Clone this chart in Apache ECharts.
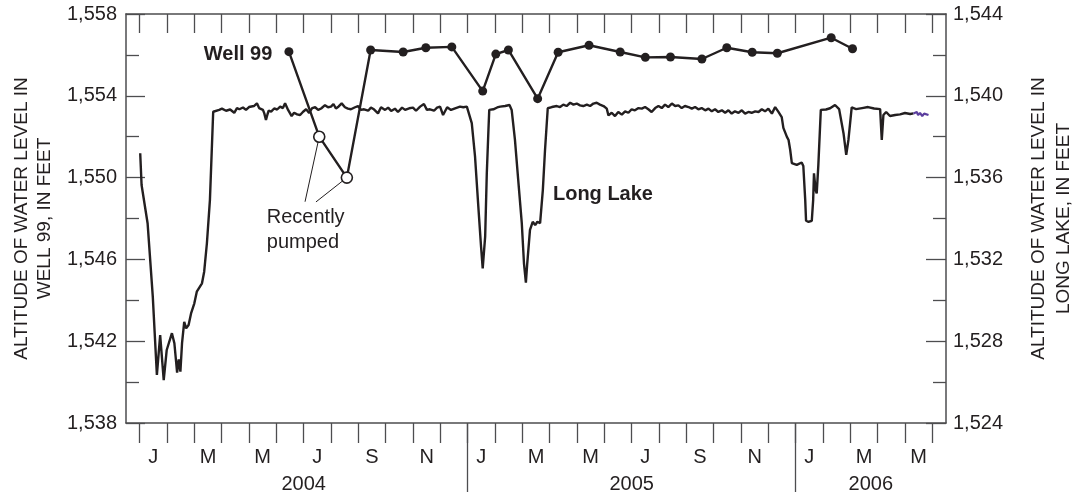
<!DOCTYPE html>
<html><head><meta charset="utf-8">
<script src="https://cdn.jsdelivr.net/npm/echarts@6/dist/echarts.min.js"></script>
<style>html,body{margin:0;padding:0;background:#fff}#chart{width:1074px;height:494px}</style>
</head><body><div id="chart"></div>
<script>
// x positions are in months counted from 1 Jan 2004 (0 = Jan 2004 start, 12 = Jan 2005, ...)
const monthLabels = ['J','M','M','J','S','N','J','M','M','J','S','N','J','M','M'];
const yearLabels = ['2004','2005','2006'];
const leftTicks = [1538,1542,1546,1550,1554,1558];
const rightTicks = [1524,1528,1532,1536,1540,1544];

// Well 99 measured water level (left axis)
const well99 = [
 [5.46,1556.16],[6.57,1552.00],[7.58,1550.00],[8.45,1556.24],[9.64,1556.14],[10.47,1556.35],
 [11.42,1556.39],[12.55,1554.23],[13.03,1556.04],[13.49,1556.24],[14.56,1553.86],[15.31,1556.13],
 [16.44,1556.47],[17.58,1556.14],[18.50,1555.88],[19.42,1555.90],[20.57,1555.80],[21.48,1556.35],
 [22.41,1556.13],[23.33,1556.08],[25.30,1556.84],[26.08,1556.30]
];
// Recently pumped measurements (hollow circles)
const well99Pumped = [[6.57,1552.00],[7.58,1550.00]];

// Long Lake water level (right axis)
const longLake = [
 [0.02,1537.19],[0.07,1535.64],[0.29,1533.77],[0.48,1530.18],[0.63,1526.35],[0.75,1528.30],[0.88,1526.10],
 [0.99,1527.57],[1.06,1527.65],[1.18,1528.39],[1.27,1527.90],[1.37,1526.46],[1.43,1527.11],[1.49,1526.51],
 [1.55,1527.90],[1.63,1528.95],[1.70,1528.63],[1.79,1528.79],[1.88,1529.36],[2.00,1529.85],[2.09,1530.42],
 [2.28,1530.83],[2.36,1531.40],[2.46,1532.79],[2.57,1534.90],[2.69,1539.22],
 [2.91,1539.31],[3.01,1539.37],[3.16,1539.27],[3.31,1539.33],[3.46,1539.17],[3.56,1539.40],[3.65,1539.34],
 [3.78,1539.43],[3.89,1539.31],[4.00,1539.45],[4.07,1539.39],[4.18,1539.50],[4.29,1539.63],[4.37,1539.40],
 [4.44,1539.47],[4.51,1539.31],[4.56,1539.14],[4.62,1538.82],[4.68,1539.11],[4.72,1539.27],[4.81,1539.23],
 [4.92,1539.38],[5.03,1539.33],[5.14,1539.47],[5.24,1539.40],[5.32,1539.63],[5.43,1539.31],[5.56,1539.01],
 [5.65,1539.17],[5.76,1539.09],[5.87,1539.06],[5.98,1539.22],[6.09,1539.34],[6.20,1539.16],[6.31,1539.40],
 [6.42,1539.44],[6.53,1539.31],[6.64,1539.38],[6.78,1539.54],[6.89,1539.44],[7.00,1539.47],[7.09,1539.60],
 [7.18,1539.38],[7.28,1539.48],[7.39,1539.63],[7.51,1539.44],[7.62,1539.37],[7.73,1539.34],[7.88,1539.44],
 [7.99,1539.50],[8.10,1539.31],[8.21,1539.34],[8.36,1539.27],[8.46,1539.42],[8.57,1539.34],[8.72,1539.14],
 [8.83,1539.44],[8.98,1539.31],[9.09,1539.42],[9.20,1539.26],[9.34,1539.37],[9.45,1539.21],[9.60,1539.42],
 [9.71,1539.31],[9.86,1539.39],[10.00,1539.42],[10.11,1539.27],[10.26,1539.47],[10.40,1539.60],[10.51,1539.31],
 [10.62,1539.34],[10.77,1539.27],[10.88,1539.42],[10.99,1539.47],[11.10,1539.06],[11.25,1539.44],[11.39,1539.31],
 [11.54,1539.39],[11.72,1539.47],[11.84,1539.44],[11.97,1539.47],[12.03,1539.44],
 [12.15,1538.66],[12.27,1537.02],[12.39,1534.58],[12.49,1532.62],[12.55,1531.56],[12.64,1533.11],[12.70,1536.21],
 [12.76,1538.33],[12.79,1539.31],[12.94,1539.34],[13.08,1539.43],[13.19,1539.47],[13.37,1539.50],[13.53,1539.55],
 [13.61,1539.31],[13.73,1537.84],[13.85,1535.88],[13.98,1533.77],[14.06,1531.81],[14.13,1530.86],[14.18,1531.81],
 [14.28,1533.44],[14.38,1533.84],[14.47,1533.68],[14.55,1533.84],[14.65,1533.77],[14.75,1535.39],[14.83,1537.35],
 [14.93,1539.39],
 [15.08,1539.45],[15.26,1539.50],[15.38,1539.45],[15.50,1539.57],[15.62,1539.50],[15.75,1539.66],[15.87,1539.57],
 [15.99,1539.62],[16.11,1539.53],[16.23,1539.50],[16.36,1539.57],[16.48,1539.50],[16.60,1539.62],[16.72,1539.66],
 [16.84,1539.57],[16.97,1539.50],[17.09,1539.37],[17.15,1539.04],[17.27,1539.17],[17.39,1539.01],[17.51,1539.21],
 [17.64,1539.08],[17.76,1539.24],[17.88,1539.17],[18.00,1539.34],[18.12,1539.29],[18.25,1539.40],[18.37,1539.37],
 [18.49,1539.45],[18.61,1539.34],[18.73,1539.21],[18.86,1539.40],[18.98,1539.50],[19.10,1539.40],[19.22,1539.57],
 [19.34,1539.45],[19.47,1539.62],[19.59,1539.50],[19.71,1539.53],[19.83,1539.40],[19.95,1539.50],[20.08,1539.45],
 [20.20,1539.37],[20.32,1539.45],[20.44,1539.34],[20.56,1539.40],[20.69,1539.29],[20.81,1539.37],[20.93,1539.24],
 [21.05,1539.34],[21.17,1539.21],[21.30,1539.29],[21.42,1539.17],[21.54,1539.29],[21.66,1539.13],[21.78,1539.24],
 [21.91,1539.17],[22.03,1539.29],[22.15,1539.13],[22.27,1539.21],[22.39,1539.17],[22.52,1539.24],[22.64,1539.21],
 [22.76,1539.34],[22.88,1539.24],[23.00,1539.37],[23.13,1539.13],[23.25,1539.45],[23.31,1539.45],[23.37,1539.21],
 [23.49,1538.96],
 [23.55,1538.43],[23.68,1537.99],[23.74,1537.84],[23.80,1537.35],[23.86,1536.71],[24.04,1536.62],
 [24.22,1536.74],[24.28,1536.57],[24.35,1534.90],[24.38,1533.89],[24.47,1533.84],[24.59,1533.89],[24.64,1534.90],
 [24.67,1536.21],[24.73,1535.39],[24.77,1535.23],[24.83,1536.62],[24.92,1539.31],[25.11,1539.33],[25.26,1539.39],
 [25.44,1539.55],[25.59,1539.35],[25.75,1538.17],[25.85,1537.11],[25.93,1537.84],[26.05,1539.43],[26.21,1539.35],
 [26.43,1539.40],[26.65,1539.45],[26.87,1539.38],[27.09,1539.35],[27.15,1537.84],[27.21,1539.06],[27.31,1539.21],
 [27.45,1539.01],[27.64,1539.06],[27.82,1539.09],[28.00,1539.16],[28.19,1539.11],[28.31,1539.14]
];
// provisional tail (purple)
const longLakeProvisional = [
 [28.31,1539.14],[28.43,1539.21],[28.48,1539.06],[28.55,1539.16],[28.63,1539.01],[28.70,1539.13],[28.77,1539.04],[28.86,1539.06]
];

// annotation anchors (data units)
const notes = {
  well: {coord:[3.60,1556.0], text:'Well 99'},
  lake: {coord:[16.95,1549.15], text:'Long Lake'},
  pumped: {coord:[4.65,1547.46], text:'Recently\npumped'},
  leaders: [[6.05,1548.82],[6.45,1548.81]]
};

const X_MIN = -0.5, X_MAX = 29.5;
const FONT = "'Liberation Sans Narrow','Arial Narrow','Liberation Sans',Arial,sans-serif";
const INK = '#231f20', AX = '#4d4d4f';

const monthTicks = []; for (let m = 0; m <= 29; m++) monthTicks.push(m);
const monthLabelPos = monthLabels.map((_, i) => 0.5 + 2 * i);
const yearBounds = yearLabels.map((_, i) => 12 * i).filter(v => v > 0);
const yearLabelPos = yearLabels.map((_, i) => (12 * i + Math.min(12 * i + 12, X_MAX)) / 2);
const minor = t => t.slice(0, -1).map(v => v + 2);
const fmt = v => Number(v).toLocaleString('en-US');
const near = (arr, v) => arr.findIndex(p => Math.abs(p - v) < 1e-6);

const txt = {fontFamily: FONT, fontSize: 20, color: INK};
const nameTxt = {fontFamily: FONT, fontSize: 19, color: INK};
const line = {show: true, onZero: false, lineStyle: {color: AX, width: 1.5}};
const noLine = {show: false, onZero: false};

const chart = echarts.init(document.getElementById('chart'), null, {renderer: 'canvas'});
chart.setOption({
  animation: false,
  backgroundColor: '#fff',
  grid: {left: 126, right: 128, top: 14, bottom: 71, containLabel: false, outerBoundsMode: 'none'},
  xAxis: [
    {type: 'value', min: X_MIN, max: X_MAX, position: 'bottom', axisLine: line,
     axisTick: {show: true, customValues: monthTicks, length: 20, lineStyle: {color: AX, width: 1.3}},
     axisLabel: Object.assign({customValues: monthLabelPos, margin: 24,
       formatter: v => monthLabels[near(monthLabelPos, v)] || ''}, txt),
     splitLine: {show: false}},
    {type: 'value', min: X_MIN, max: X_MAX, position: 'top', axisLine: line,
     axisTick: {show: true, inside: true, customValues: monthTicks, length: 19, lineStyle: {color: AX, width: 1.3}},
     axisLabel: {show: false}, splitLine: {show: false}},
    {type: 'value', min: X_MIN, max: X_MAX, position: 'bottom', axisLine: noLine,
     axisTick: {show: true, customValues: yearBounds, length: 69, lineStyle: {color: AX, width: 1.3}},
     axisLabel: Object.assign({customValues: yearLabelPos, margin: 51,
       formatter: v => yearLabels[near(yearLabelPos, v)] || ''}, txt),
     splitLine: {show: false}}
  ],
  yAxis: [
    {type: 'value', min: 1538, max: 1558, position: 'left',
     name: 'ALTITUDE OF WATER LEVEL IN\nWELL 99, IN FEET', nameLocation: 'middle', nameGap: 66, nameRotate: 90,
     nameTextStyle: Object.assign({lineHeight: 23, align: 'center'}, nameTxt),
     axisLine: line,
     axisTick: {show: true, inside: true, customValues: leftTicks, length: 19, lineStyle: {color: AX, width: 1.3}},
     axisLabel: Object.assign({customValues: leftTicks, margin: 9, formatter: fmt}, txt),
     splitLine: {show: false}},
    {type: 'value', min: 1538, max: 1558, position: 'left', axisLine: noLine,
     axisTick: {show: true, inside: true, customValues: minor(leftTicks), length: 13, lineStyle: {color: AX, width: 1.3}},
     axisLabel: {show: false}, splitLine: {show: false}},
    {type: 'value', min: 1524, max: 1544, position: 'right',
     name: 'ALTITUDE OF WATER LEVEL IN\nLONG LAKE, IN FEET', nameLocation: 'middle', nameGap: 80, nameRotate: 90,
     nameTextStyle: Object.assign({lineHeight: 25, align: 'center'}, nameTxt),
     axisLine: line,
     axisTick: {show: true, inside: true, customValues: rightTicks, length: 20, lineStyle: {color: AX, width: 1.3}},
     axisLabel: Object.assign({customValues: rightTicks, margin: 7, formatter: fmt}, txt),
     splitLine: {show: false}},
    {type: 'value', min: 1524, max: 1544, position: 'right', axisLine: noLine,
     axisTick: {show: true, inside: true, customValues: minor(rightTicks), length: 13, lineStyle: {color: AX, width: 1.3}},
     axisLabel: {show: false}, splitLine: {show: false}}
  ],
  series: [
    {name: 'Long Lake', type: 'line', xAxisIndex: 0, yAxisIndex: 2, data: longLake,
     showSymbol: false, symbol: 'none', lineStyle: {color: INK, width: 2.4}, z: 2},
    {name: 'Long Lake provisional', type: 'line', xAxisIndex: 0, yAxisIndex: 2, data: longLakeProvisional,
     showSymbol: false, symbol: 'none', lineStyle: {color: '#5b3e9e', width: 2.2}, z: 2},
    {name: 'Well 99', type: 'line', xAxisIndex: 0, yAxisIndex: 0, data: well99,
     symbol: 'circle', symbolSize: 9, showSymbol: true,
     itemStyle: {color: INK}, lineStyle: {color: INK, width: 2.4}, z: 4,
     markLine: {silent: true, symbol: 'none', animation: false,
       lineStyle: {color: INK, width: 1, type: 'solid'}, label: {show: false},
       data: notes.leaders.map((p, i) => [{coord: p}, {coord: well99Pumped[i]}])},
     markPoint: {silent: true, symbol: 'circle', symbolSize: 0,
       data: [
         {coord: notes.well.coord, label: Object.assign({show: true, formatter: notes.well.text, fontWeight: 'bold', position: 'inside', align: 'center', verticalAlign: 'middle'}, txt)},
         {coord: notes.lake.coord, label: Object.assign({show: true, formatter: notes.lake.text, fontWeight: 'bold', position: 'inside', align: 'center', verticalAlign: 'middle'}, txt)},
         {coord: notes.pumped.coord, label: Object.assign({show: true, formatter: notes.pumped.text, position: 'inside', align: 'left', verticalAlign: 'middle', lineHeight: 25}, txt)}
       ]}},
    {name: 'Recently pumped', type: 'scatter', xAxisIndex: 0, yAxisIndex: 0, data: well99Pumped,
     symbol: 'circle', symbolSize: 11, itemStyle: {color: '#ffffff', opacity: 1, borderColor: INK, borderWidth: 1.6}, z: 6}
  ]
});
</script>
</body></html>
